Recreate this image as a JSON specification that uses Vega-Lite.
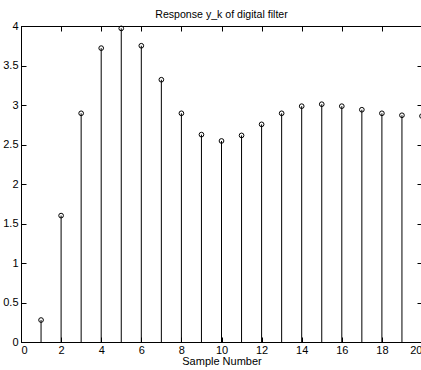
{
  "$schema": "https://vega.github.io/schema/vega-lite/v6.json",
  "autosize": "none",
  "padding": {"left": 21, "top": 26, "right": 0, "bottom": 28},
  "width": 401,
  "height": 316,
  "background": "white",
  "config": {
    "font": "Liberation Sans",
    "view": {"stroke": "black", "strokeWidth": 1},
    "axis": {
      "grid": false,
      "domainColor": "black",
      "domainWidth": 1,
      "tickColor": "black",
      "tickSize": -5,
      "labelColor": "black",
      "labelFontSize": 11,
      "labelFont": "Liberation Sans",
      "titleFont": "Liberation Sans",
      "titleFontSize": 11,
      "titleFontWeight": "normal",
      "titleColor": "black"
    }
  },
  "title": {
    "text": "Response y_k of digital filter",
    "fontSize": 10.6,
    "fontWeight": "normal",
    "font": "Liberation Sans",
    "color": "black",
    "offset": 4,
    "dy": 5
  },
  "data": {
    "values": [
      {"k": 1, "y": 0.278},
      {"k": 2, "y": 1.60},
      {"k": 3, "y": 2.895},
      {"k": 4, "y": 3.72},
      {"k": 5, "y": 3.97},
      {"k": 6, "y": 3.75},
      {"k": 7, "y": 3.32},
      {"k": 8, "y": 2.895},
      {"k": 9, "y": 2.625},
      {"k": 10, "y": 2.545},
      {"k": 11, "y": 2.615},
      {"k": 12, "y": 2.755},
      {"k": 13, "y": 2.895},
      {"k": 14, "y": 2.985},
      {"k": 15, "y": 3.01},
      {"k": 16, "y": 2.985},
      {"k": 17, "y": 2.94},
      {"k": 18, "y": 2.895},
      {"k": 19, "y": 2.87},
      {"k": 20, "y": 2.86}
    ]
  },
  "layer": [
    {
      "mark": {"type": "rule", "color": "black", "strokeWidth": 1},
      "encoding": {
        "x": {
          "field": "k",
          "type": "quantitative",
          "scale": {"domain": [0, 20], "nice": false},
          "axis": {
            "orient": "bottom",
            "values": [0, 2, 4, 6, 8, 10, 12, 14, 16, 18, 20],
            "title": "Sample Number",
            "labelPadding": 7,
            "titlePadding": 0
          }
        },
        "y": {
          "field": "y",
          "type": "quantitative",
          "scale": {"domain": [0, 4], "nice": false},
          "axis": {
            "orient": "left",
            "values": [0, 0.5, 1, 1.5, 2, 2.5, 3, 3.5, 4],
            "format": "~g",
            "title": null,
            "labelPadding": 8
          }
        },
        "y2": {"datum": 0}
      }
    },
    {
      "mark": {"type": "point", "shape": "circle", "filled": false, "color": "black", "size": 22, "strokeWidth": 1, "opacity": 1},
      "encoding": {
        "x": {
          "field": "k",
          "type": "quantitative",
          "axis": {"orient": "top", "values": [0, 2, 4, 6, 8, 10, 12, 14, 16, 18, 20], "labels": false, "title": null}
        },
        "y": {
          "field": "y",
          "type": "quantitative",
          "axis": {"orient": "right", "values": [0, 0.5, 1, 1.5, 2, 2.5, 3, 3.5, 4], "labels": false, "title": null}
        }
      }
    }
  ],
  "resolve": {"axis": {"x": "independent", "y": "independent"}}
}
